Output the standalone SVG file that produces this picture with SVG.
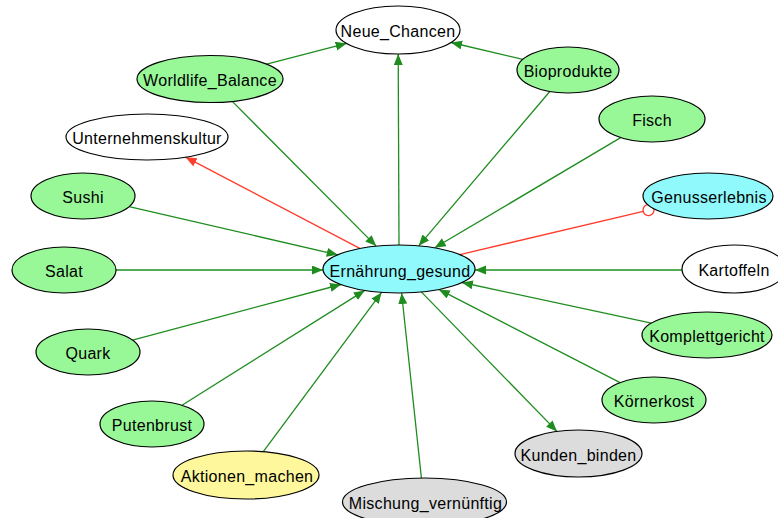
<svg xmlns="http://www.w3.org/2000/svg" width="778" height="518" viewBox="0 0 778 518">
  <style>
    .node ellipse { stroke: #000; stroke-width: 1.2; }
    .node text { font-family: "Liberation Sans", Arial, sans-serif; font-size: 16px; letter-spacing: 0.3px; text-anchor: middle; fill: #000; }
    .green ellipse { fill: #98f898; }
    .cyan ellipse { fill: #90f9fc; }
    .white ellipse { fill: #ffffff; }
    .gray ellipse { fill: #dcdcdc; }
    .yellow ellipse { fill: #fff79c; }
    .pos { stroke: #1e8c1e; stroke-width: 1.3; fill: none; marker-end: url(#arrowGreen); }
    .plain { stroke: #1e8c1e; stroke-width: 1.3; fill: none; }
    .neg { stroke: #ff3b2b; stroke-width: 1.3; fill: none; marker-end: url(#arrowRed); }
    .negdot { stroke: #ff3b2b; stroke-width: 1.3; fill: none; marker-end: url(#dotRed); }
  </style>
  <defs>
    <marker id="arrowGreen" markerUnits="userSpaceOnUse" markerWidth="12" markerHeight="10" refX="11" refY="4.5" orient="auto">
      <path d="M0,0 L11,4.5 L0,9 z" fill="#1e8c1e"/>
    </marker>
    <marker id="arrowRed" markerUnits="userSpaceOnUse" markerWidth="12" markerHeight="10" refX="11" refY="4.5" orient="auto">
      <path d="M0,0 L11,4.5 L0,9 z" fill="#ff3b2b"/>
    </marker>
    <marker id="dotRed" markerUnits="userSpaceOnUse" markerWidth="14" markerHeight="14" refX="12.5" refY="7" orient="auto">
      <circle cx="7" cy="7" r="5.5" fill="#ffffff" stroke="#ff3b2b" stroke-width="1.3"/>
    </marker>
  </defs>

  <g id="connectors">
    <line class="pos" x1="266.7" y1="64.2" x2="346.6" y2="43.4"/>
    <line class="pos" x1="522.8" y1="59.4" x2="451" y2="42.5"/>
    <line class="pos" x1="399" y1="245" x2="398.2" y2="54"/>
    <line class="pos" x1="232.3" y1="101.4" x2="376.2" y2="246.1"/>
    <line class="pos" x1="549.8" y1="91.5" x2="418.7" y2="245.8"/>
    <line class="pos" x1="620.7" y1="137.6" x2="434.7" y2="247.8"/>
    <line class="neg" x1="359.8" y1="248.4" x2="185.6" y2="157.2"/>
    <line class="pos" x1="129.1" y1="206.6" x2="337.7" y2="254.8"/>
    <line class="negdot" x1="459.9" y1="254.6" x2="653.9" y2="208.8"/>
    <line class="pos" x1="116" y1="270" x2="323" y2="270"/>
    <line class="pos" x1="682" y1="270" x2="475" y2="270"/>
    <line class="pos" x1="132.5" y1="340.1" x2="341" y2="284.5"/>
    <line class="pos" x1="651.4" y1="323.1" x2="461.9" y2="282.5"/>
    <line class="pos" x1="182" y1="405.2" x2="364.8" y2="290.4"/>
    <line class="pos" x1="620.1" y1="382.6" x2="438.8" y2="289.4"/>
    <line class="pos" x1="263.3" y1="451.7" x2="381.6" y2="292.4"/>
    <line class="pos" x1="421.4" y1="478" x2="401.6" y2="293"/>
    <line class="pos" x1="421.3" y1="291.9" x2="557" y2="431.4"/>
  </g>

  <g id="Neue_Chancen" class="node white">
    <ellipse cx="398" cy="30" rx="62" ry="24"/>
    <text x="398" y="37">Neue_Chancen</text>
  </g>
  <g id="Worldlife_Balance" class="node green">
    <ellipse cx="210" cy="79" rx="73" ry="23.5"/>
    <text x="210" y="86">Worldlife_Balance</text>
  </g>
  <g id="Bioprodukte" class="node green">
    <ellipse cx="568" cy="70" rx="51" ry="23"/>
    <text x="568" y="77">Bioprodukte</text>
  </g>
  <g id="Unternehmenskultur" class="node white">
    <ellipse cx="147" cy="137" rx="81" ry="23"/>
    <text x="147" y="144">Unternehmenskultur</text>
  </g>
  <g id="Fisch" class="node green">
    <ellipse cx="652" cy="119" rx="53" ry="23"/>
    <text x="652" y="126">Fisch</text>
  </g>
  <g id="Sushi" class="node green">
    <ellipse cx="83" cy="196" rx="52" ry="23"/>
    <text x="83" y="203">Sushi</text>
  </g>
  <g id="Genusserlebnis" class="node cyan">
    <ellipse cx="708" cy="196" rx="65" ry="23"/>
    <text x="709" y="203">Genusserlebnis</text>
  </g>
  <g id="Salat" class="node green">
    <ellipse cx="64" cy="270" rx="52" ry="23"/>
    <text x="64" y="277">Salat</text>
  </g>
  <g id="Ernaehrung_gesund" class="node cyan">
    <ellipse cx="399" cy="269" rx="76" ry="24"/>
    <text x="400" y="276.5">Ernährung_gesund</text>
  </g>
  <g id="Kartoffeln" class="node white">
    <ellipse cx="734" cy="269" rx="52" ry="24"/>
    <text x="734" y="276">Kartoffeln</text>
  </g>
  <g id="Quark" class="node green">
    <ellipse cx="88" cy="352" rx="52" ry="23"/>
    <text x="88" y="359">Quark</text>
  </g>
  <g id="Komplettgericht" class="node green">
    <ellipse cx="707" cy="335" rx="65" ry="23"/>
    <text x="707" y="342">Komplettgericht</text>
  </g>
  <g id="Koernerkost" class="node green">
    <ellipse cx="654" cy="400" rx="52" ry="23"/>
    <text x="654" y="407">Körnerkost</text>
  </g>
  <g id="Putenbrust" class="node green">
    <ellipse cx="152" cy="424" rx="52" ry="23"/>
    <text x="152" y="431">Putenbrust</text>
  </g>
  <g id="Kunden_binden" class="node gray">
    <ellipse cx="578.5" cy="453.5" rx="63.5" ry="23.5"/>
    <text x="578.5" y="460.5">Kunden_binden</text>
  </g>
  <g id="Aktionen_machen" class="node yellow">
    <ellipse cx="246" cy="475" rx="73" ry="24"/>
    <text x="247" y="482">Aktionen_machen</text>
  </g>
  <g id="Mischung_vernuenftig" class="node gray">
    <ellipse cx="424.5" cy="502" rx="82" ry="24"/>
    <text x="425.5" y="509">Mischung_vernünftig</text>
  </g>
</svg>
